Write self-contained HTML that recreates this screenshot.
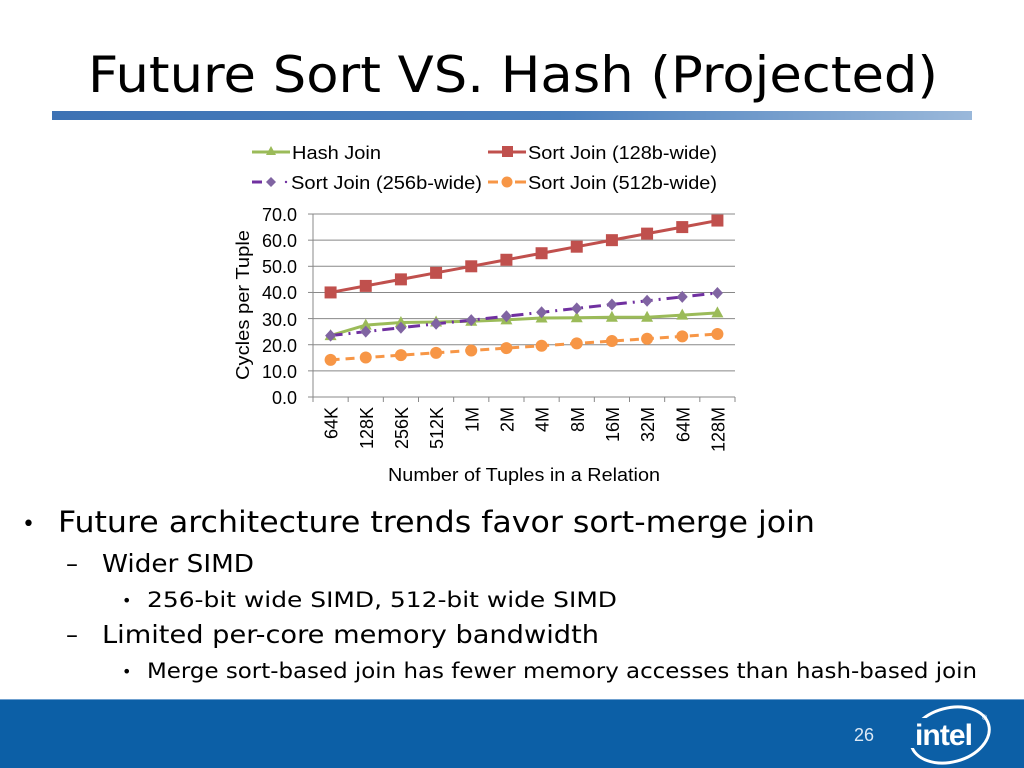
<!DOCTYPE html>
<html><head><meta charset="utf-8"><style>
html,body{margin:0;padding:0;width:1024px;height:768px;overflow:hidden;background:#fff;font-family:"Liberation Sans",sans-serif}
</style></head><body>
<svg id="s" width="1024" height="768" xmlns="http://www.w3.org/2000/svg" style="position:absolute;left:0;top:0">
<defs><linearGradient id="g" x1="0" x2="1"><stop offset="0" stop-color="#3d72b4"/><stop offset="0.55" stop-color="#4a7fbd"/><stop offset="1" stop-color="#9ab8da"/></linearGradient></defs>
<text x="88" y="92" font-size="50" fill="#000" font-family="DejaVu Sans, sans-serif" textLength="850" lengthAdjust="spacingAndGlyphs">Future Sort VS. Hash (Projected)</text>
<rect x="52" y="111" width="920" height="9" fill="url(#g)"/>
<g font-size="18" fill="#000">
<text x="292" y="159" textLength="89" lengthAdjust="spacingAndGlyphs">Hash Join</text>
<text x="528" y="159" textLength="189" lengthAdjust="spacingAndGlyphs">Sort Join (128b-wide)</text>
<text x="291" y="189" textLength="191" lengthAdjust="spacingAndGlyphs">Sort Join (256b-wide)</text>
<text x="528" y="189" textLength="189" lengthAdjust="spacingAndGlyphs">Sort Join (512b-wide)</text>
</g>
<line x1="252" y1="152" x2="290" y2="152" stroke="#9bbb59" stroke-width="3"/>
<polygon points="271,146 276,155 266,155" fill="#9bbb59"/>
<line x1="488" y1="152" x2="526" y2="152" stroke="#c0504d" stroke-width="3"/>
<rect x="502" y="146" width="11" height="11" fill="#c0504d"/>
<line x1="252" y1="182" x2="262" y2="182" stroke="#7030a0" stroke-width="3"/>
<polygon points="271,177 276,182 271,187 266,182" fill="#8064a2"/>
<circle cx="286" cy="182" r="1.2" fill="#7030a0"/>
<line x1="488" y1="182" x2="498" y2="182" stroke="#f79646" stroke-width="3"/>
<line x1="515" y1="182" x2="526" y2="182" stroke="#f79646" stroke-width="3"/>
<circle cx="507" cy="182" r="5.5" fill="#f79646"/>
<g id="grid" stroke="#888" stroke-width="1"></g>
<g font-size="18" fill="#000" text-anchor="end">
<text x="297" y="404">0.0</text><text x="297" y="378">10.0</text><text x="297" y="352">20.0</text><text x="297" y="326">30.0</text><text x="297" y="299">40.0</text><text x="297" y="273">50.0</text><text x="297" y="247">60.0</text><text x="297" y="221">70.0</text>
</g>
<text transform="translate(249,305) rotate(-90)" text-anchor="middle" font-size="18" textLength="150" lengthAdjust="spacingAndGlyphs">Cycles per Tuple</text>
<g id="xl" font-size="18"></g>
<text x="388" y="481" font-size="18" textLength="272" lengthAdjust="spacingAndGlyphs">Number of Tuples in a Relation</text>
<g id="ser"></g>
<g font-family="DejaVu Sans, sans-serif" fill="#000">
<text x="22" y="531" font-size="22">•</text>
<text x="58" y="532" font-size="29" textLength="757" lengthAdjust="spacingAndGlyphs">Future architecture trends favor sort-merge join</text>
<text x="66" y="572" font-size="24">–</text>
<text x="102" y="572" font-size="25" textLength="152" lengthAdjust="spacingAndGlyphs">Wider SIMD</text>
<text x="122" y="606" font-size="16">•</text>
<text x="147" y="607" font-size="21" textLength="470" lengthAdjust="spacingAndGlyphs">256-bit wide SIMD, 512-bit wide SIMD</text>
<text x="66" y="643" font-size="24">–</text>
<text x="102" y="643" font-size="25" textLength="497" lengthAdjust="spacingAndGlyphs">Limited per-core memory bandwidth</text>
<text x="122" y="677" font-size="16">•</text>
<text x="147" y="678" font-size="21" textLength="830" lengthAdjust="spacingAndGlyphs">Merge sort-based join has fewer memory accesses than hash-based join</text>
</g>
<rect x="0" y="699" width="1024" height="69" fill="#0c5fa6"/>
<line x1="0" y1="699.5" x2="1024" y2="699.5" stroke="#6fa0cf" stroke-width="1"/>
<text x="864" y="741" text-anchor="middle" font-size="18" fill="#dce8f5">26</text>
<ellipse cx="950" cy="735" rx="40" ry="27" fill="none" stroke="#fff" stroke-width="3" transform="rotate(-15 950 735)"/>
<rect x="900" y="718" width="70" height="30" fill="#0c5fa6"/>
<text x="944" y="745" text-anchor="middle" font-size="30" fill="#fff" font-weight="bold" textLength="58">intel</text>
<text x="982" y="720" font-size="7" fill="#fff">®</text>
</svg>
<script>
var NS="http://www.w3.org/2000/svg";
function el(p,t,a,txt){var e=document.createElementNS(NS,t);for(var k in a)e.setAttribute(k,a[k]);if(txt)e.textContent=txt;document.getElementById(p).appendChild(e);return e;}
var x0=313,x1=735,y0=397,sc=2.614,cw=(x1-x0)/12;
for(var i=1;i<=7;i++){var y=y0-i*10*sc;el("grid","line",{x1:x0,x2:x1,y1:y,y2:y});}
el("grid","line",{x1:x0-5,x2:x1,y1:y0,y2:y0});
el("grid","line",{x1:x0,x2:x0,y1:214,y2:y0});
for(var i=0;i<=12;i++){var x=x0+i*cw;el("grid","line",{x1:x,x2:x,y1:y0,y2:y0+5});}
for(var i=1;i<=7;i++){el("grid","line",{x1:x0-5,x2:x0,y1:y0-i*10*sc,y2:y0-i*10*sc});}
var labs=["64K","128K","256K","512K","1M","2M","4M","8M","16M","32M","64M","128M"];
function cx(i){return x0+cw/2+i*cw;}
function cy(v){return y0-v*sc;}
var data={
h:[23.5,27.5,28.5,28.7,29,29.5,30.2,30.3,30.5,30.5,31.3,32.2],
r:[40,42.5,45,47.5,50,52.5,55,57.5,60,62.5,65,67.5],
p:[23.5,25,26.5,28,29.4,30.9,32.4,33.9,35.4,36.8,38.3,39.8],
o:[14.2,15.1,16,16.9,17.8,18.7,19.6,20.5,21.4,22.3,23.2,24.1]};
function pts(a){return a.map(function(v,i){return cx(i)+","+cy(v)}).join(" ");}
el("ser","polyline",{points:pts(data.o),fill:"none",stroke:"#f79646","stroke-width":3,"stroke-dasharray":"9,6"});
el("ser","polyline",{points:pts(data.h),fill:"none",stroke:"#9bbb59","stroke-width":3});
el("ser","polyline",{points:pts(data.p),fill:"none",stroke:"#7030a0","stroke-width":3,"stroke-dasharray":"12,6,2,6"});
el("ser","polyline",{points:pts(data.r),fill:"none",stroke:"#c0504d","stroke-width":3});
data.o.forEach(function(v,i){el("ser","circle",{cx:cx(i),cy:cy(v),r:6,fill:"#f79646"});});
data.h.forEach(function(v,i){var x=cx(i),y=cy(v);el("ser","polygon",{points:(x)+","+(y-6.5)+" "+(x+6)+","+(y+4.5)+" "+(x-6)+","+(y+4.5),fill:"#9bbb59"});});
data.p.forEach(function(v,i){var x=cx(i),y=cy(v);el("ser","polygon",{points:x+","+(y-6)+" "+(x+5.5)+","+y+" "+x+","+(y+6)+" "+(x-5.5)+","+y,fill:"#8064a2"});});
data.r.forEach(function(v,i){el("ser","rect",{x:cx(i)-6,y:cy(v)-6,width:12,height:12,fill:"#c0504d"});});
labs.forEach(function(l,i){el("xl","text",{transform:"translate("+(cx(i)+7)+",407) rotate(-90)","text-anchor":"end"},l);});
</script>
</body></html>
